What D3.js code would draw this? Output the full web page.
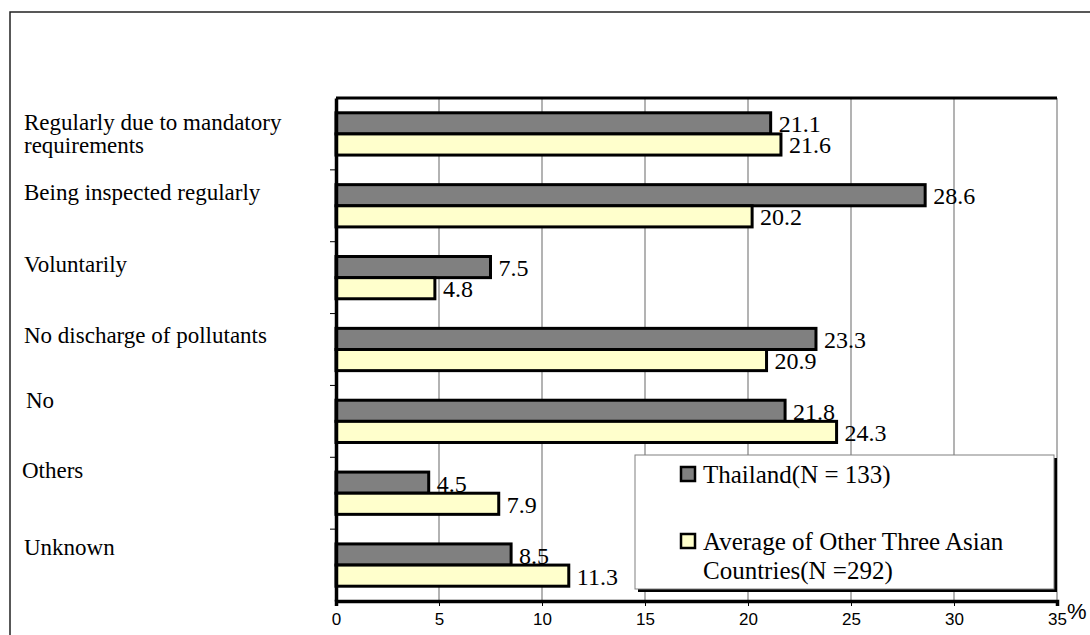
<!DOCTYPE html>
<html>
<head>
<meta charset="utf-8">
<script src="https://cdn.jsdelivr.net/npm/d3@7"></script>
<style>
  html, body { margin: 0; padding: 0; background: #fff; }
  svg { display: block; }
  .serif { font-family: "Liberation Serif", "Times New Roman", Tinos, "Nimbus Roman", "DejaVu Serif", serif; }
  .narrow { font-family: "Liberation Sans Narrow", "Arial Narrow", "Liberation Sans", Arial, sans-serif; }
</style>
</head>
<body>
<svg id="chart" width="1090" height="635"></svg>
<script>
// ---- data ----
const categories = [
  "Regularly due to mandatory requirements",
  "Being inspected regularly",
  "Voluntarily",
  "No discharge of pollutants",
  "No",
  "Others",
  "Unknown"
];
const categoryLines = [
  ["Regularly due to mandatory", "requirements"],
  ["Being inspected regularly"],
  ["Voluntarily"],
  ["No discharge of pollutants"],
  ["No"],
  ["Others"],
  ["Unknown"]
];
const seriesNames = ["Thailand(N = 133)", "Average of Other Three Asian Countries(N =292)"];
const legendLines = [["Thailand(N = 133)"], ["Average of Other Three Asian", "Countries(N =292)"]];
const thailand = [21.1, 28.6, 7.5, 23.3, 21.8, 4.5, 8.5];
const otherAsian = [21.6, 20.2, 4.8, 20.9, 24.3, 7.9, 11.3];
const xTicks = [0, 5, 10, 15, 20, 25, 30, 35];

// ---- layout / style ----
const colors = ["#808080", "#FFFFCC"];
const plot = { left: 336, right: 1057, top: 98, bottom: 601 };
const labelNudge = [0, -13, -13, -14, -21, -23, -18]; // vertical label placement as in reference
const labelX = [24, 24, 24, 24, 26, 22, 24];

const svg = d3.select("#chart");

// outer frame
svg.append("rect").attr("x", 10).attr("y", 12).attr("width", 1200).attr("height", 800)
  .attr("fill", "#fff").attr("stroke", "#222").attr("stroke-width", 1.5);

const x = d3.scaleLinear().domain([0, 35]).range([plot.left, plot.right]);
const y = d3.scaleBand().domain(categories).range([plot.top, plot.bottom]).paddingInner(0).paddingOuter(0);
const inner = d3.scaleBand().domain([0, 1]).range([0, y.bandwidth()]).paddingOuter(0.7).paddingInner(0);

const g = svg.append("g");

// gridlines
g.selectAll("line.grid").data(xTicks.filter(d => d > 0)).join("line")
  .attr("class", "grid")
  .attr("x1", d => x(d)).attr("x2", d => x(d))
  .attr("y1", plot.top).attr("y2", plot.bottom)
  .attr("stroke", "#808080").attr("stroke-width", 1.2);

// bars
const seriesData = [thailand, otherAsian];
seriesData.forEach((vals, si) => {
  g.selectAll("rect.s" + si).data(vals).join("rect")
    .attr("class", "s" + si)
    .attr("x", x(0))
    .attr("y", (d, i) => y(categories[i]) + inner(si))
    .attr("width", d => x(d) - x(0))
    .attr("height", inner.bandwidth())
    .attr("fill", colors[si])
    .attr("stroke", "#000").attr("stroke-width", 3);
});

// top border line
g.append("line").attr("x1", plot.left).attr("x2", plot.right).attr("y1", plot.top).attr("y2", plot.top)
  .attr("stroke", "#000").attr("stroke-width", 3);

// x axis
const xAxis = d3.axisBottom(x).tickValues(xTicks).tickSize(5).tickFormat(d3.format("d"));
const xa = svg.append("g").attr("transform", `translate(0,${plot.bottom})`).call(xAxis);
xa.attr("font-family", null).attr("font-size", null);
xa.select(".domain").attr("stroke", "#000").attr("stroke-width", 3.5);
xa.selectAll(".tick line").attr("stroke", "#000").attr("stroke-width", 1);
xa.selectAll(".tick text").attr("class", "narrow").style("font-size", "17px").attr("fill", "#000")
  .attr("y", 12).attr("dy", "0.71em").attr("transform", "scale(1,1)");

// y axis (left line + ticks at band boundaries)
const yAxis = d3.axisLeft(y).tickSize(0).tickFormat("");
const ya = svg.append("g").attr("transform", `translate(${plot.left},0)`).call(yAxis);
ya.select(".domain").attr("stroke", "#000").attr("stroke-width", 3.5);
ya.selectAll(".tick").remove();
svg.append("g").selectAll("line").data(categories.slice(1)).join("line")
  .attr("x1", plot.left - 6).attr("x2", plot.left)
  .attr("y1", d => y(d)).attr("y2", d => y(d))
  .attr("stroke", "#000").attr("stroke-width", 1);

// value labels
seriesData.forEach((vals, si) => {
  svg.append("g").selectAll("text").data(vals).join("text")
    .attr("class", "serif")
    .attr("x", d => x(d) + 8)
    .attr("y", (d, i) => y(categories[i]) + inner(si) + inner.bandwidth() / 2 + 1)
    .attr("dominant-baseline", "central")
    .style("font-size", "24px").attr("fill", "#000")
    .text(d => d3.format(".1f")(d));
});

// category labels
const catG = svg.append("g");
categories.forEach((c, i) => {
  const lines = categoryLines[i];
  const lh = 23;
  const cy = y(c) + y.bandwidth() / 2 + labelNudge[i];
  const t = catG.append("text").attr("class", "serif")
    .style("font-size", "23px").attr("fill", "#000");
  lines.forEach((ln, k) => {
    t.append("tspan").attr("x", labelX[i])
      .attr("y", cy + (k - (lines.length - 1) / 2) * lh)
      .attr("dominant-baseline", "central")
      .text(ln);
  });
});

// percent sign
svg.append("text").attr("class", "narrow").attr("x", 1067).attr("y", 619)
  .style("font-size", "22px").attr("fill", "#000").text("%");

// legend
const lg = { x: 635, y: 455, w: 419, h: 134 };
svg.append("rect").attr("x", lg.x + 3).attr("y", lg.y + 3).attr("width", lg.w).attr("height", lg.h).attr("fill", "#000");
svg.append("rect").attr("x", lg.x).attr("y", lg.y).attr("width", lg.w).attr("height", lg.h)
  .attr("fill", "#fff").attr("stroke", "#808080").attr("stroke-width", 1);
const legendY = [474, 541];
seriesNames.forEach((s, si) => {
  svg.append("rect").attr("x", 681).attr("y", legendY[si] - 7).attr("width", 14).attr("height", 14)
    .attr("fill", colors[si]).attr("stroke", "#000").attr("stroke-width", 2.5);
  const t = svg.append("text").attr("class", "serif").style("font-size", "25px").attr("fill", "#000");
  legendLines[si].forEach((ln, k) => {
    t.append("tspan").attr("x", 703).attr("y", legendY[si] + k * 29)
      .attr("dominant-baseline", "central").text(ln);
  });
});
</script>
</body>
</html>
